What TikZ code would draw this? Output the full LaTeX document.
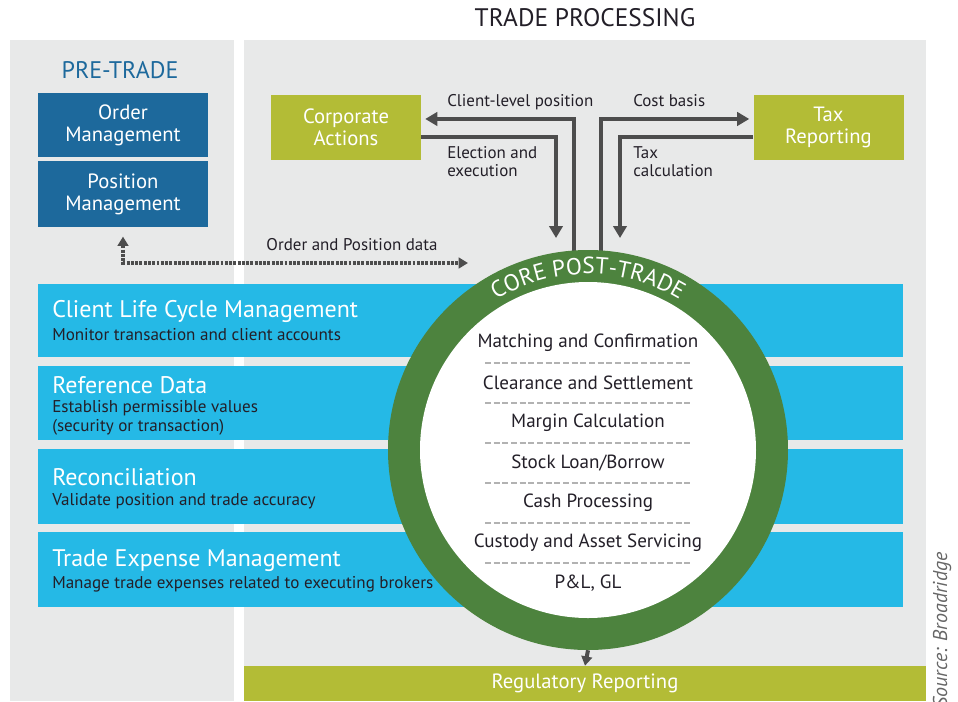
\documentclass[tikz,border=0pt]{standalone}
\usepackage{fontspec}
\setmainfont{PT Sans}
\usetikzlibrary{positioning,arrows.meta,decorations.text}

\begin{document}
\begin{tikzpicture}[x=0.75pt, y=-0.75pt,
    %Option for the arrows
    >={Triangle[length=9pt,width=10pt]}, %
    inner sep=0pt,%
    prebox/.style={fill=preblue, text=white, minimum width=127.5pt, align=center,
        font=\fontsize{15.5}{16.5}\selectfont},
    sidebox/.style={fill=olivegreen, text=white, minimum width=112.5pt, minimum height=48.75pt,
        align=center, font=\fontsize{15.5}{16.5}\selectfont},
    bartitle/.style={anchor=west, text=white, font=\fontsize{18}{20}\selectfont},
    bartext/.style={anchor=west, text=textdark, align=left, font=\fontsize{12.8}{14.3}\selectfont},
    flow/.style={->, line width=3pt, draw=arrowgray},
    dotflow/.style={<->, line width=3pt, draw=arrowgray, dash pattern=on 2.2pt off 1pt,
        >={Triangle[length=7pt,width=8pt]}},
    label/.style={text=textdark, align=left, font=\fontsize{12.7}{13.5}\selectfont},
    item/.style={text=textdark, font=\fontsize{14.3}{15}\selectfont},
    sep/.style={draw=black!30, line width=0.8pt, dash pattern=on 4.5pt off 2pt},
]
    % Colors
    \definecolor{panelgray}{RGB}{232,233,233}
    \definecolor{preblue}{RGB}{29,105,156}
    \definecolor{barcyan}{RGB}{37,185,230}
    \definecolor{ringgreen}{RGB}{77,131,62}
    \definecolor{olivegreen}{RGB}{179,188,54}
    \definecolor{arrowgray}{RGB}{77,77,77}
    \definecolor{textdark}{RGB}{35,31,40}

    \useasboundingbox[fill=white] (0,0) rectangle (958,701);

    % Panels
    \fill[panelgray] (10,40) rectangle (234,701);
    \fill[panelgray] (244,40) rectangle (926,701);
    \node[text=textdark, font=\fontsize{19}{21}\selectfont] (title) at (585,18) {TRADE PROCESSING};

    % Pre-trade
    \node[text=preblue, font=\fontsize{18}{20}\selectfont] (pretrade) at (120,70) {PRE-TRADE};
    \node[prebox, minimum height=48pt] (ordmgmt) at (123,125) {Order\\Management};
    \node[prebox, minimum height=49.5pt] (posmgmt) at (123,194) {Position\\Management};

    % Blue bars
    \fill[barcyan] (38,284) rectangle (903,357);
    \fill[barcyan] (38,366) rectangle (903,440);
    \fill[barcyan] (38,449) rectangle (903,524);
    \fill[barcyan] (38,532) rectangle (903,607);
    \node[bartitle] (clcm) at (52,311) {Client Life Cycle Management};
    \node[bartext] (clcmtxt) at (52,335) {Monitor transaction and client accounts};
    \node[bartitle] (refdata) at (52,385) {Reference Data};
    \node[bartext] (refdatatxt) at (52,417.5) {Establish permissible values\\(security or transaction)};
    \node[bartitle] (recon) at (52,477) {Reconciliation};
    \node[bartext] (recontxt) at (52,501) {Validate position and trade accuracy};
    \node[bartitle] (tem) at (52,561) {Trade Expense Management};
    \node[bartext] (temtxt) at (52,584) {Manage trade expenses related to executing brokers};

    % Side boxes
    \node[sidebox] (corpact) at (346,127.5) {Corporate\\Actions};
    \node[sidebox] (taxrep) at (828.5,127.5) {Tax\\Reporting};
    \node[fill=olivegreen, text=white, minimum width=511.5pt, minimum height=26.25pt,
        font=\fontsize{15.5}{16.5}\selectfont] (regrep) at (585,683.5) {Regulatory Reporting};

    % Flows to and from the side boxes
    \coordinate (clientpos) at (574,262);
    \coordinate (costbasis) at (601,262);
    \coordinate (election) at (556,238);
    \coordinate (taxcalc) at (620,238);
    \draw[flow, shorten >=3pt] (clientpos) |- ([yshift=6.4pt]corpact.east);
    \draw[flow] ([yshift=-7pt]corpact.east) -| (election);
    \draw[flow, shorten >=3pt] (costbasis) |- ([yshift=6.4pt]taxrep.west);
    \draw[flow] ([yshift=-7pt]taxrep.west) -| (taxcalc);

    \node[label, anchor=base west] (clientlbl) at (447,106) {Client-level position};
    \node[label, anchor=base west] (costlbl) at (633,106) {Cost basis};
    \node[label, anchor=north west] (electlbl) at (447,146) {Election and\\execution};
    \node[label, anchor=north west] (taxlbl) at (633,146) {Tax\\calculation};

    % Order and position data
    \coordinate (opdata) at (468,263);
    \draw[dotflow] ([yshift=-7pt]posmgmt.south) |- (opdata);
    \node[label] (oplbl) at (352,245) {Order and Position data};

    % Core post-trade
    \node[circle, fill=ringgreen, minimum size=300pt] (core) at (588,450) {};
    \fill[white] (core.center) circle[radius=126pt];
    \path[decorate, decoration={text along path, text align=center,
        text={|\color{white}\fontsize{17.5}{17.5}\selectfont|CORE POST-TRADE}}]
        ([shift={(150:132pt)}]core.center) arc[start angle=150, end angle=30, radius=132pt];

    \foreach \txt [count=\i] in {Matching and Confirmation, Clearance and Settlement,
        Margin Calculation, Stock Loan/Borrow, Cash Processing,
        Custody and Asset Servicing, {P\&L, GL}}
        \node[item] (item\i) at (588,{343+40*(\i-1)}) {\txt};

    \foreach \i in {1,...,6}
        \draw[sep] (485,{363+40*(\i-1)}) -- (690,{363+40*(\i-1)});

    \draw[flow, >={Triangle[length=7pt,width=8pt]}] (core.south) -- (regrep.north);

    % Source
    \node[rotate=90, text=black!60, font=\fontsize{15}{17}\selectfont\itshape] (source)
        at (942,630) {Source: Broadridge};
\end{tikzpicture}
\end{document}
